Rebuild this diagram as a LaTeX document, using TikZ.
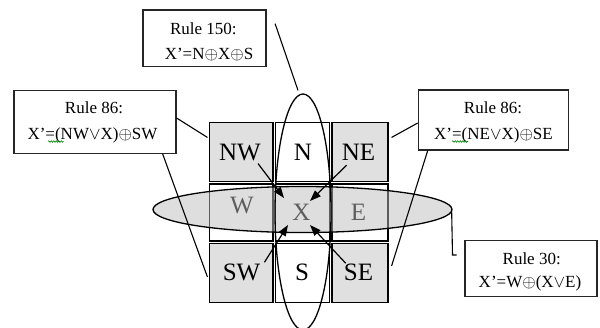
\documentclass[tikz,border=0pt]{standalone}
\usepackage{fontspec}
\setmainfont{Liberation Serif}
\usetikzlibrary{shapes.geometric,arrows.meta,decorations.pathmorphing}
\tikzset{
  cellbox/.style n args={2}{draw=black, line width=1.1pt, rectangle, inner sep=0pt, minimum width=#1, minimum height=#2},
  corner/.style={fill=black!12},
  lab/.style={font=\fontsize{25}{30}\selectfont, inner sep=0pt, anchor=base},
  rulebox/.style n args={2}{draw=black!85, line width=1.2pt, rectangle, inner sep=0pt, minimum width=#1, minimum height=#2},
  txt/.style={font=\fontsize{17}{20}\selectfont, inner sep=0pt, anchor=base},
  arr/.style={line width=1.2pt, -{Triangle[length=11pt,width=8pt]}},
  callout/.style={line width=1.1pt},
  ell/.style={ellipse, draw=black, line width=1.3pt, inner sep=0pt},
  squig/.style={draw=green!55!black, line width=0.6pt, decorate, decoration={snake, amplitude=0.8pt, segment length=2.5pt}}
}
\begin{document}
\begin{tikzpicture}[x=1pt,y=-1pt]
\useasboundingbox (0,0) rectangle (600,327);

% grid cells
\node[cellbox={63.5pt}{59pt},corner] (cNW) at (241.25,152) {};
\node[cellbox={54pt}{59pt}]          (cN)  at (302.5,152) {};
\node[cellbox={56pt}{59pt},corner]   (cNE) at (360,152) {};
\node[cellbox={63.5pt}{57pt}]        (cW)  at (241.25,212.5) {};
\node[cellbox={54pt}{57pt}]          (cX)  at (302.5,212.5) {};
\node[cellbox={56pt}{57pt}]          (cE)  at (360,212.5) {};
\node[cellbox={63.5pt}{59pt},corner] (cSW) at (241.25,273) {};
\node[cellbox={54pt}{59pt}]          (cS)  at (302.5,273) {};
\node[cellbox={56pt}{59pt},corner]   (cSE) at (360,273) {};

% cell labels
\node[lab] (lNW) at (240,160) {NW};
\node[lab] (lN)  at (303,160) {N};
\node[lab] (lNE) at (358.5,160) {NE};
\node[lab] (lW)  at (242,213) {W};
\node[lab] (lX)  at (301.5,220) {X};
\node[lab] (lE)  at (358.5,220) {E};
\node[lab] (lSW) at (241.5,280) {SW};
\node[lab] (lS)  at (302,280) {S};
\node[lab] (lSE) at (358.5,280) {SE};

% ellipses
\node[ell, fill=black!26, fill opacity=0.5, minimum width=299pt, minimum height=46pt] (hE) at (302.5,209.5) {};
\node[ell, minimum width=56pt, minimum height=236pt] (vE) at (303,212) {};

% arrows towards X
\coordinate (tNW) at (284,198);
\coordinate (tNE) at (310,201);
\coordinate (tSW) at (288,225);
\coordinate (tSE) at (310,225);
\draw[arr] ([shift={(-3,3)}]lNW.south east) -- (tNW);
\draw[arr] ([shift={(5,5)}]lNE.south west) -- (tNE);
\draw[arr] ([shift={(4,-1)}]lSW.north east) -- (tSW);
\draw[arr] ([shift={(2,0)}]lSE.north west) -- (tSE);

% rule boxes
\node[rulebox={123pt}{56.7pt}] (r150) at (204.5,38.3) {};
\node[txt] (t150a) at (203.3,34.5) {Rule 150:};
\node[txt] (t150b) at (209,59) {X’=N$\oplus$X$\oplus$S};

\node[rulebox={162pt}{63pt}] (r86L) at (95,121.7) {};
\node[txt] (t86La) at (94,113) {Rule 86:};
\node[txt] (t86Lb) at (92.5,139) {X’=(NW$\vee$X)$\oplus$SW};

\node[rulebox={150pt}{60pt}] (r86R) at (493.3,120) {};
\node[txt] (t86Ra) at (493,113) {Rule 86:};
\node[txt] (t86Rb) at (493.5,139) {X’=(NE$\vee$X)$\oplus$SE};

\node[rulebox={132pt}{56pt}] (r30) at (531,268.7) {};
\node[txt] (t30a) at (531.7,264.5) {Rule 30:};
\node[txt] (t30b) at (530,287.5) {X’=W$\oplus$(X$\vee$E)};

% spell-check squiggles
\draw[squig] (48,141.5) -- (63.5,141.5);
\draw[squig] (452,141.5) -- (468,141.5);

% callout lines
\draw[callout] ([shift={(8.5,14.3)}]r150.north east) -- ([shift={(-5,-3)}]vE.north);
\draw[callout] ([shift={(0,-3.7)}]r86L.east) -- ([shift={(-1.5,15.5)}]cNW.north west);
\draw[callout] ([shift={(-14,0)}]r86L.south east) -- ([shift={(-1.5,4)}]cSW.west);
\draw[callout] ([shift={(0,3)}]r86R.west) -- ([shift={(3,15.5)}]cNE.north east);
\draw[callout] ([shift={(10,0)}]r86R.south west) -- ([shift={(3,-7)}]cSE.east);
\coordinate (k30) at (452.5,255);
\coordinate (c30) at (456.5,255);
\draw[callout] ([shift={(-1,1.5)}]hE.east) -- (k30) -- (c30);
\end{tikzpicture}
\end{document}
